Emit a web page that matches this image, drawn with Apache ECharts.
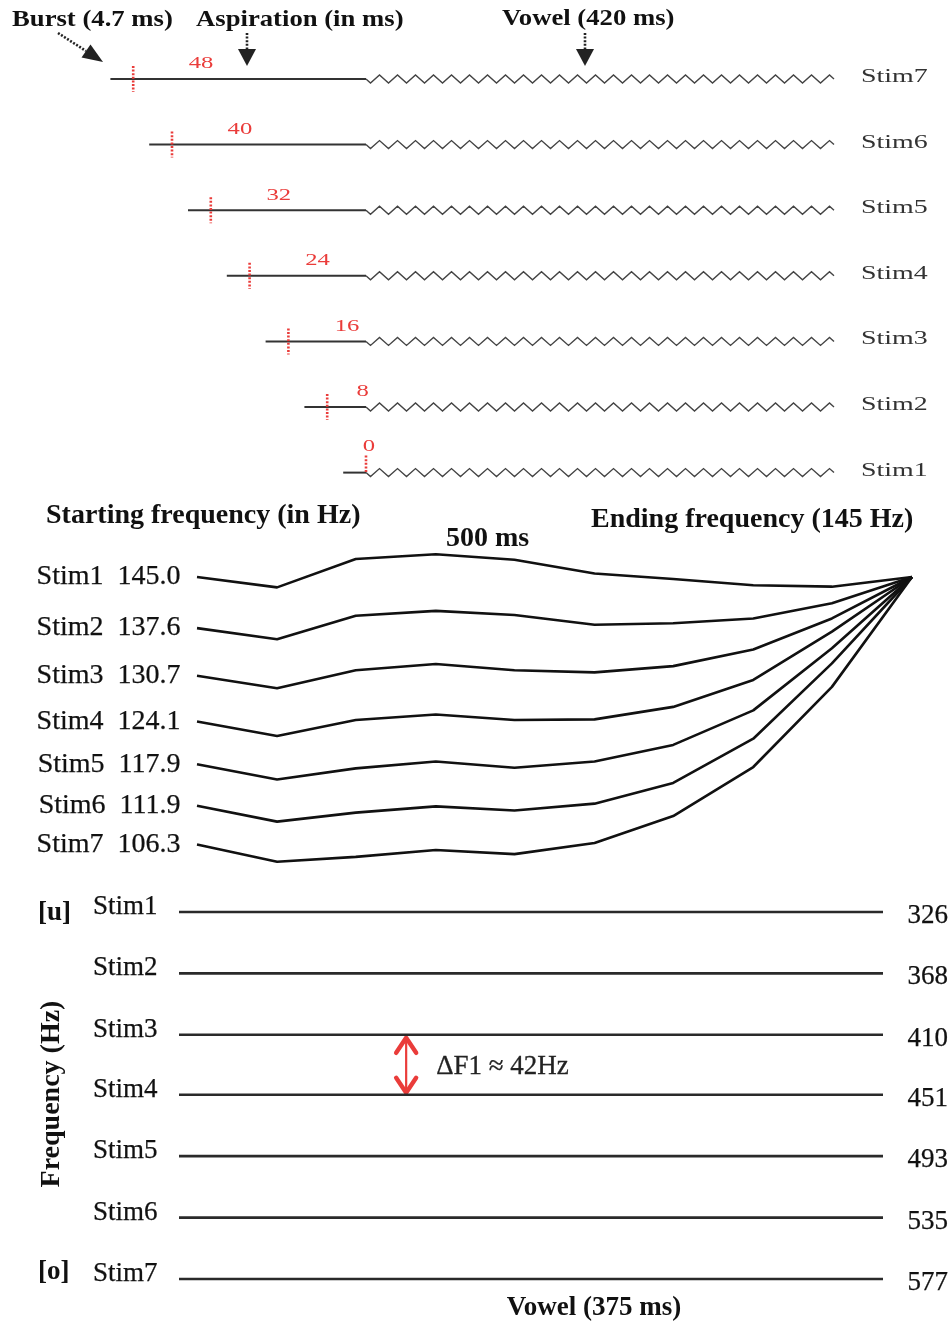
<!DOCTYPE html>
<html><head><meta charset="utf-8">
<script src="https://cdn.jsdelivr.net/npm/echarts@6/dist/echarts.min.js"></script>
<style>html,body{margin:0;padding:0;background:#fff}#c{width:952px;height:1324px}</style>
</head><body><div id="c"></div>
<script>
// ---------------- data ----------------
const stimNames = ['Stim1', 'Stim2', 'Stim3', 'Stim4', 'Stim5', 'Stim6', 'Stim7'];
// panel 1: VOT continuum
const aspirationMs = [0, 8, 16, 24, 32, 40, 48];
const burstMs = 4.7;
const vowelMs = 420;
// panel 2: F0 contours (Hz) sampled over 500 ms
const f0Times = [0, 56, 111, 167, 222, 278, 333, 389, 444, 500];
const f0Start = [145.0, 137.6, 130.7, 124.1, 117.9, 111.9, 106.3];
const f0EndHz = 145;
const f0Stim1 = [145.0, 143.5, 147.6, 148.3, 147.5, 145.5, 144.7, 143.8, 143.6, 145];
const f0Stim2 = [137.6, 136.0, 139.4, 140.1, 139.5, 138.1, 138.3, 139.0, 141.2, 145];
const f0Stim3 = [130.7, 128.9, 131.5, 132.4, 131.5, 131.2, 132.1, 134.5, 139.0, 145];
const f0Stim4 = [124.1, 122.0, 124.3, 125.1, 124.3, 124.4, 126.2, 130.1, 137.1, 145];
const f0Stim5 = [117.9, 115.7, 117.3, 118.3, 117.4, 118.3, 120.7, 125.7, 134.7, 145];
const f0Stim6 = [111.9, 109.6, 110.9, 111.8, 111.2, 112.2, 115.2, 121.6, 132.5, 145];
const f0Stim7 = [106.3, 103.8, 104.5, 105.5, 104.9, 106.5, 110.4, 117.5, 129.1, 145];
const f0Contours = [f0Stim1, f0Stim2, f0Stim3, f0Stim4, f0Stim5, f0Stim6, f0Stim7];
// panel 3: F1 continuum
const f1Values = [326, 368, 410, 451, 493, 535, 577];
const f1VowelMs = 375;
const deltaF1 = 42;

// ---------------- chart ----------------
const SERIF = '"Liberation Serif", "Times New Roman", serif';
const INK = '#111';
const RED = '#ea3c3a';
const chart = echarts.init(document.getElementById('c'), null, {renderer: 'canvas'});

const hidden = {show: false};
const grids = [
  {left: 104.1, top: 46.2, width: 261.9, height: 459.2},
  {left: 366, top: 46.2, width: 468, height: 459.2},
  {left: 197, top: 542.45, width: 715, height: 345.5},
  {left: 179, top: 888.6, width: 704, height: 409.4}
].map(g => Object.assign({show: false, containLabel: false, outerBoundsMode: 'none'}, g));

const xAxes = [
  {gridIndex: 0, type: 'value', min: -54, max: 0},
  {gridIndex: 1, type: 'value', min: 0, max: vowelMs},
  {gridIndex: 2, type: 'value', min: 0, max: 500},
  {gridIndex: 3, type: 'value', min: 0, max: f1VowelMs}
].map(a => Object.assign({show: false, splitLine: hidden}, a));
const yAxes = [
  {gridIndex: 0, type: 'value', min: 0.5, max: 7.5},
  {gridIndex: 1, type: 'value', min: 0.5, max: 7.5},
  {gridIndex: 2, type: 'value', min: 100, max: 150},
  {gridIndex: 3, type: 'value', min: 310, max: 590, inverse: true}
].map(a => Object.assign({show: false, splitLine: hidden}, a));

const labelInk = {color: INK, textBorderColor: INK, textBorderWidth: 0.25, fontFamily: SERIF};
const ghost = {color: 'rgba(0,0,0,0)', opacity: 1};
const series = [];

// Panel 1: burst + aspiration segment with red burst marker and duration label
series.push({
  type: 'custom', xAxisIndex: 0, yAxisIndex: 0, silent: true, clip: false,
  data: aspirationMs.map((a, i) => [-(a + burstMs), 0, i + 1, a]),
  renderItem: function (params, api) {
    const row = api.value(2), asp = api.value(3);
    const p0 = api.coord([api.value(0), row]);
    const p1 = api.coord([api.value(1), row]);
    const pm = api.coord([-asp, row]);
    const off = asp === 0 ? 0.6 : Math.min(14, 0.6 * asp + 2.5);
    const pl = api.coord([-asp + off, row]);
    return {type: 'group', children: [
      {type: 'line', shape: {x1: p0[0], y1: p0[1], x2: p1[0], y2: p1[1]},
        style: {stroke: '#333', lineWidth: 2}},
      {type: 'line', shape: {x1: pm[0], y1: pm[1] - (asp ? 13 : 17), x2: pm[0], y2: pm[1] + (asp ? 13 : 1)},
        style: {stroke: RED, lineWidth: 2.6, lineDash: [2, 1.6]}},
      {type: 'text', x: pl[0], y: pl[1] - (asp ? 15 : 26), scaleX: 1.45,
        style: {text: String(asp), fill: RED, font: '17px ' + SERIF,
          textAlign: 'center', textVerticalAlign: 'middle', align: 'center', verticalAlign: 'middle'}}
    ]};
  }
});

// Panel 1: vowel (voiced) segment drawn as a periodic wave + stimulus name
series.push({
  type: 'custom', xAxisIndex: 1, yAxisIndex: 1, silent: true, clip: false,
  data: stimNames.map((s, i) => [0, vowelMs, i + 1]),
  renderItem: function (params, api) {
    const row = api.value(2);
    const a = api.coord([api.value(0), row]);
    const b = api.coord([api.value(1), row]);
    const n = 26, per = (b[0] - a[0]) / n, amp = 4;
    const pts = [[a[0], a[1]]];
    for (let k = 0; k < n; k++) {
      pts.push([a[0] + per * (k + 0.25), a[1] + amp]);
      pts.push([a[0] + per * (k + 0.75), a[1] - amp]);
    }
    pts.push([b[0], b[1]]);
    return {type: 'group', children: [
      {type: 'polyline', shape: {points: pts}, style: {stroke: '#444', lineWidth: 1.4, fill: null}},
      {type: 'text', x: b[0] + 27, y: b[1] - 2, scaleX: 1.47,
        style: {text: stimNames[params.dataIndex], fill: '#333', font: '19px ' + SERIF,
          textAlign: 'left', textVerticalAlign: 'middle', align: 'left', verticalAlign: 'middle'}}
    ]};
  }
});

// Panel 2: F0 contours
f0Contours.forEach((vals, i) => {
  series.push({
    type: 'line', xAxisIndex: 2, yAxisIndex: 2, silent: true,
    symbol: 'none', smooth: false, animation: false,
    lineStyle: {color: '#111', width: 2.6},
    data: f0Times.map((t, j) => [t, vals[j]])
  });
});
series.push({
  type: 'scatter', xAxisIndex: 2, yAxisIndex: 2, silent: true,
  symbolSize: 1, itemStyle: ghost,
  data: f0Start.map((v, i) => ({name: stimNames[i], value: [f0Times[0], v]})),
  label: Object.assign({show: true, position: 'left', distance: 16, fontSize: 28,
    formatter: p => p.name + '  ' + p.value[1].toFixed(1)}, labelInk)
});

// Panel 3: F1 levels
f1Values.forEach((f, i) => {
  series.push({
    type: 'line', xAxisIndex: 3, yAxisIndex: 3, silent: true,
    symbol: 'none', animation: false,
    lineStyle: {color: '#2a2a2a', width: 2.6},
    data: [[0, f], [f1VowelMs, f]]
  });
});
series.push({
  type: 'scatter', xAxisIndex: 3, yAxisIndex: 3, silent: true,
  symbolSize: 1, itemStyle: ghost,
  data: f1Values.map((f, i) => ({name: stimNames[i], value: [0, f]})),
  label: Object.assign({show: true, position: 'left', distance: 21, offset: [0, -5],
    fontSize: 27, formatter: p => p.name}, labelInk)
});
series.push({
  type: 'scatter', xAxisIndex: 3, yAxisIndex: 3, silent: true,
  symbolSize: 1, itemStyle: ghost,
  data: f1Values.map((f, i) => ({name: stimNames[i], value: [f1VowelMs, f]})),
  label: Object.assign({show: true, position: 'right', distance: 24, offset: [0, 4],
    fontSize: 27, formatter: p => String(p.value[1])}, labelInk)
});
// ΔF1 double arrow between Stim3 and Stim4
series.push({
  type: 'custom', xAxisIndex: 3, yAxisIndex: 3, silent: true, clip: false,
  data: [[121, f1Values[2], f1Values[3]]],
  renderItem: function (params, api) {
    const t = api.coord([api.value(0), api.value(1)]);
    const b = api.coord([api.value(0), api.value(2)]);
    const x = t[0], y1 = t[1] + 3, y2 = b[1] - 2, hw = 10, hh = 15;
    return {type: 'group', children: [
      {type: 'line', shape: {x1: x, y1: y1 + 2, x2: x, y2: y2 - 2}, style: {stroke: RED, lineWidth: 2.2}},
      {type: 'polyline', shape: {points: [[x - hw, y1 + hh], [x, y1], [x + hw, y1 + hh]]},
        style: {stroke: RED, lineWidth: 4.4, fill: null, lineJoin: 'round', lineCap: 'round'}},
      {type: 'polyline', shape: {points: [[x - hw, y2 - hh], [x, y2], [x + hw, y2 - hh]]},
        style: {stroke: RED, lineWidth: 4.4, fill: null, lineJoin: 'round', lineCap: 'round'}},
      {type: 'text', x: x + 30, y: (t[1] + b[1]) / 2 + 2,
        style: {text: '\u0394F1 \u2248 ' + deltaF1 + 'Hz', fill: '#222', font: '27px ' + SERIF,
          stroke: '#222', lineWidth: 0.3,
          textAlign: 'left', textVerticalAlign: 'middle', align: 'left', verticalAlign: 'middle'}}
    ]};
  }
});

// ---------------- annotations ----------------
function txt(text, x, y, size, opts) {
  opts = opts || {};
  return {
    type: 'text', x: x, y: y, silent: true,
    scaleX: opts.scaleX || 1, rotation: opts.rotation || 0,
    style: {text: text, fill: opts.fill || INK,
      font: (opts.bold === false ? '' : 'bold ') + size + 'px ' + SERIF,
      textAlign: opts.align || 'left', textVerticalAlign: 'middle',
      align: opts.align || 'left', verticalAlign: 'middle'}
  };
}
function downArrow(x) {
  return [
    {type: 'line', silent: true, shape: {x1: x, y1: 33, x2: x, y2: 49},
      style: {stroke: '#222', lineWidth: 2.6, lineDash: [2, 1.6]}},
    {type: 'polygon', silent: true, shape: {points: [[x - 9, 49], [x + 9, 49], [x, 66]]},
      style: {fill: '#222'}}
  ];
}
const graphics = [
  txt('Burst (' + burstMs + ' ms)', 12, 20, 23, {scaleX: 1.16}),
  txt('Aspiration (in ms)', 196, 20, 23, {scaleX: 1.16}),
  txt('Vowel (' + vowelMs + ' ms)', 502, 19, 23, {scaleX: 1.16}),
  {type: 'line', silent: true, shape: {x1: 58, y1: 33, x2: 86, y2: 51},
    style: {stroke: '#222', lineWidth: 2.6, lineDash: [2, 1.6]}},
  {type: 'polygon', silent: true, shape: {points: [[103, 62], [81.5, 57.5], [90.5, 44.5]]},
    style: {fill: '#222'}},
  ...downArrow(247),
  ...downArrow(585),
  txt('Starting frequency (in Hz)', 46, 516, 28),
  txt('500 ms', 446, 539, 28),
  txt('Ending frequency (' + f0EndHz + ' Hz)', 591, 520, 28),
  txt('[u]', 38, 913, 27),
  txt('[o]', 38, 1272, 27),
  txt('Frequency (Hz)', 52, 1094, 28, {align: 'center', rotation: Math.PI / 2}),
  txt('Vowel (' + f1VowelMs + ' ms)', 594, 1308, 27, {align: 'center'})
];

chart.setOption({
  animation: false,
  backgroundColor: '#fff',
  grid: grids, xAxis: xAxes, yAxis: yAxes,
  series: series,
  graphic: {elements: graphics}
});
</script></body></html>
